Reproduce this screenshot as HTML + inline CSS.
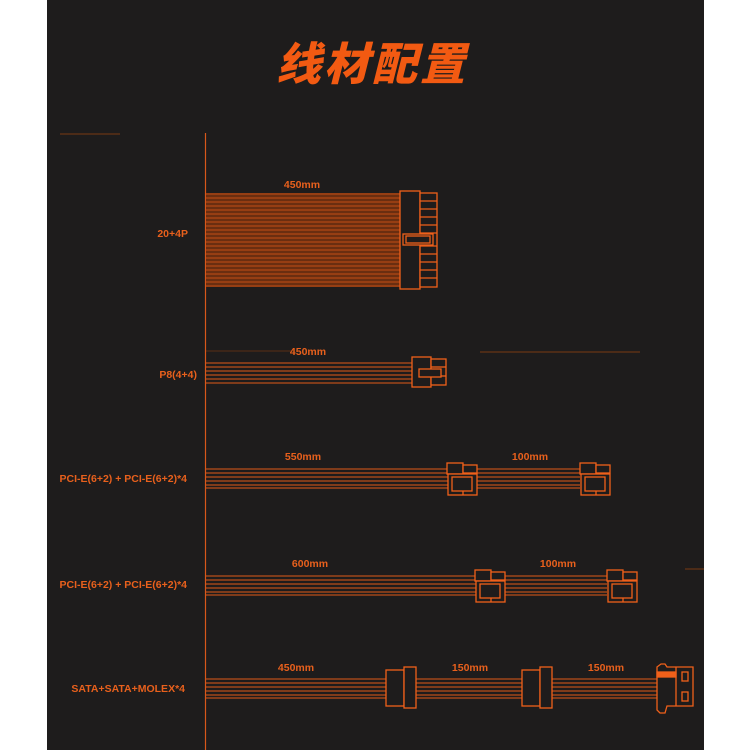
<!DOCTYPE html>
<html><head><meta charset="utf-8"><style>
html,body{margin:0;padding:0;background:#fff;}
svg{display:block}
</style></head><body>
<svg width="750" height="750" viewBox="0 0 750 750" xmlns="http://www.w3.org/2000/svg">
<rect x="0" y="0" width="750" height="750" fill="#fff"/>
<rect x="47" y="0" width="657" height="750" fill="#1e1c1c"/>
<text x="372" y="80" text-anchor="middle" font-family="'Noto Sans CJK SC',sans-serif" font-weight="900" font-size="45" fill="#f25a12" font-style="italic" letter-spacing="3">线材配置</text>
<g stroke="#7a3a12" stroke-width="1">
<line x1="60" y1="134" x2="120" y2="134"/>
<line x1="480" y1="352" x2="640" y2="352"/>
<line x1="685" y1="569" x2="704" y2="569"/>
<line x1="205" y1="351" x2="295" y2="351" stroke="#5a2e14"/>
</g>
<line x1="205.5" y1="133" x2="205.5" y2="750" stroke="#d8571a" stroke-width="1.2"/>
<g font-family="'Liberation Sans',sans-serif" font-weight="bold" font-size="10.5" fill="#e8601c">
<text x="188" y="237" text-anchor="end">20+4P</text>
<text x="197" y="378" text-anchor="end">P8(4+4)</text>
<text x="187" y="482" text-anchor="end">PCI-E(6+2) + PCI-E(6+2)*4</text>
<text x="187" y="588" text-anchor="end">PCI-E(6+2) + PCI-E(6+2)*4</text>
<text x="185" y="692" text-anchor="end">SATA+SATA+MOLEX*4</text>
<text x="302" y="188" text-anchor="middle">450mm</text>
<text x="308" y="355" text-anchor="middle">450mm</text>
<text x="303" y="460" text-anchor="middle">550mm</text>
<text x="530" y="460" text-anchor="middle">100mm</text>
<text x="310" y="567" text-anchor="middle">600mm</text>
<text x="558" y="567" text-anchor="middle">100mm</text>
<text x="296" y="671" text-anchor="middle">450mm</text>
<text x="470" y="671" text-anchor="middle">150mm</text>
<text x="606" y="671" text-anchor="middle">150mm</text>
</g>
<rect x="206" y="193" width="194" height="94" fill="#6a2e10"/>
<g stroke="#e05a18" stroke-width="0.8">
<line x1="206" y1="194" x2="400" y2="194"/><line x1="206" y1="198" x2="400" y2="198"/><line x1="206" y1="202" x2="400" y2="202"/><line x1="206" y1="206" x2="400" y2="206"/><line x1="206" y1="210" x2="400" y2="210"/><line x1="206" y1="214" x2="400" y2="214"/><line x1="206" y1="218" x2="400" y2="218"/><line x1="206" y1="222" x2="400" y2="222"/><line x1="206" y1="226" x2="400" y2="226"/><line x1="206" y1="230" x2="400" y2="230"/><line x1="206" y1="234" x2="400" y2="234"/><line x1="206" y1="238" x2="400" y2="238"/><line x1="206" y1="242" x2="400" y2="242"/><line x1="206" y1="246" x2="400" y2="246"/><line x1="206" y1="250" x2="400" y2="250"/><line x1="206" y1="254" x2="400" y2="254"/><line x1="206" y1="258" x2="400" y2="258"/><line x1="206" y1="262" x2="400" y2="262"/><line x1="206" y1="266" x2="400" y2="266"/><line x1="206" y1="270" x2="400" y2="270"/><line x1="206" y1="274" x2="400" y2="274"/><line x1="206" y1="278" x2="400" y2="278"/><line x1="206" y1="282" x2="400" y2="282"/><line x1="206" y1="286" x2="400" y2="286"/>
</g>
<g fill="#1e1c1c" stroke="#f0601a" stroke-width="1.3">
<rect x="400" y="191" width="20" height="98"/>
<rect x="420" y="193" width="17" height="94"/>
<line x1="420" y1="201" x2="437" y2="201"/><line x1="420" y1="209" x2="437" y2="209"/><line x1="420" y1="217" x2="437" y2="217"/><line x1="420" y1="225" x2="437" y2="225"/><line x1="420" y1="233" x2="437" y2="233"/><line x1="420" y1="246" x2="437" y2="246"/><line x1="420" y1="254" x2="437" y2="254"/><line x1="420" y1="262" x2="437" y2="262"/><line x1="420" y1="270" x2="437" y2="270"/><line x1="420" y1="278" x2="437" y2="278"/>
<rect x="403" y="234" width="30" height="11"/>
<rect x="406" y="236" width="24" height="7"/>
</g>
<g stroke="#e05a18" stroke-width="1.1">
<line x1="206" y1="363" x2="412" y2="363"/><line x1="206" y1="367" x2="412" y2="367"/><line x1="206" y1="371" x2="412" y2="371"/><line x1="206" y1="375" x2="412" y2="375"/><line x1="206" y1="379" x2="412" y2="379"/><line x1="206" y1="383" x2="412" y2="383"/>
<line x1="206" y1="469" x2="580" y2="469"/><line x1="206" y1="473" x2="580" y2="473"/><line x1="206" y1="477" x2="580" y2="477"/><line x1="206" y1="481" x2="580" y2="481"/><line x1="206" y1="485" x2="580" y2="485"/><line x1="206" y1="488" x2="580" y2="488"/>
<line x1="206" y1="576" x2="607" y2="576"/><line x1="206" y1="580" x2="607" y2="580"/><line x1="206" y1="584" x2="607" y2="584"/><line x1="206" y1="588" x2="607" y2="588"/><line x1="206" y1="592" x2="607" y2="592"/><line x1="206" y1="595" x2="607" y2="595"/>
<line x1="206" y1="679" x2="657" y2="679"/><line x1="206" y1="683" x2="657" y2="683"/><line x1="206" y1="687" x2="657" y2="687"/><line x1="206" y1="691" x2="657" y2="691"/><line x1="206" y1="695" x2="657" y2="695"/><line x1="206" y1="698" x2="657" y2="698"/>
</g>
<g fill="#1e1c1c" stroke="#f0601a" stroke-width="1.3">
<rect x="412" y="357" width="19" height="30"/>
<rect x="431" y="359" width="15" height="26"/>
<line x1="431" y1="367" x2="446" y2="367"/><line x1="431" y1="376" x2="446" y2="376"/>
<rect x="419" y="369" width="22" height="8"/>
</g>
<g id="pci" fill="#1e1c1c" stroke="#f0601a" stroke-width="1.3">
<rect x="447" y="463" width="16" height="11"/>
<rect x="463" y="465" width="14" height="8"/>
<rect x="448" y="474" width="29" height="21"/>
<rect x="452" y="477" width="20" height="14"/>
<line x1="463" y1="495" x2="463" y2="491"/>
</g>
<use href="#pci" x="133" y="0"/>
<use href="#pci" x="28" y="107"/>
<use href="#pci" x="160" y="107"/>
<g id="sata" fill="#1e1c1c" stroke="#f0601a" stroke-width="1.3">
<rect x="386" y="670" width="18" height="36"/>
<rect x="404" y="667" width="12" height="41"/>
</g>
<use href="#sata" x="136" y="0"/>
<g fill="#1e1c1c" stroke="#f0601a" stroke-width="1.3">
<path d="M657 667 L661 664 L665 664 L667 667 L693 667 L693 706 L667 706 L665 713 L660 713 L657 710 Z"/>
<line x1="676" y1="667" x2="676" y2="706"/>
<rect x="657" y="672" width="19" height="5" fill="#f0601a"/>
<rect x="682" y="672" width="6" height="9"/>
<rect x="682" y="692" width="6" height="9"/>
</g>
</svg>
</body></html>
